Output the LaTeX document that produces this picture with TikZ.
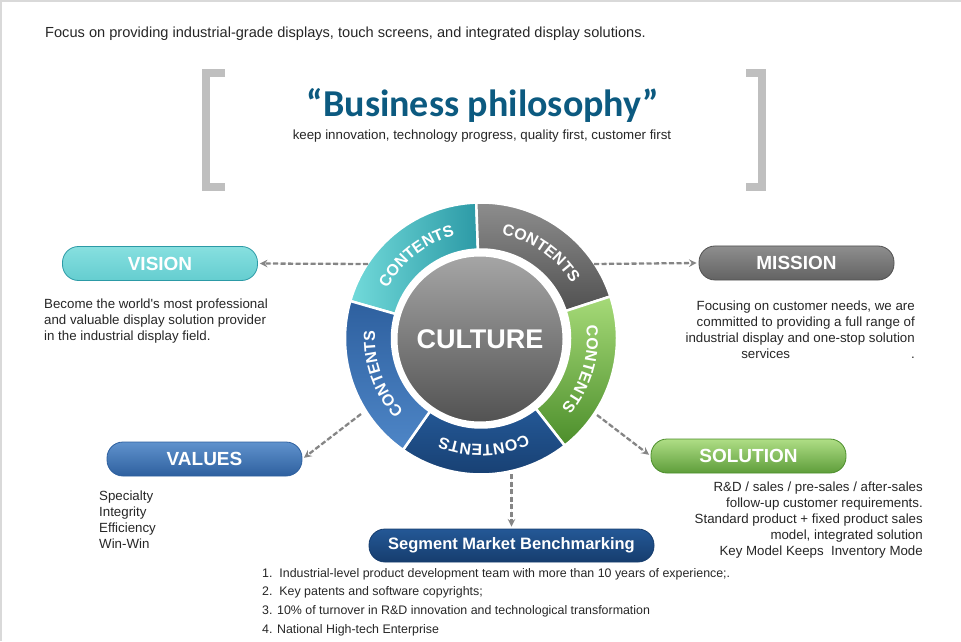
\documentclass[tikz,border=0pt]{standalone}
\usepackage{fontspec}
\setmainfont{Liberation Sans}[Ligatures=TeXOff]
\newfontfamily\titlefont{Carlito}
\usetikzlibrary{decorations.text}
\definecolor{tealL}{HTML}{72DADA}
\definecolor{tealD}{HTML}{2C9AA6}
\definecolor{grayL}{HTML}{8E8E8E}
\definecolor{grayD}{HTML}{515151}
\definecolor{greenL}{HTML}{A6DA78}
\definecolor{greenD}{HTML}{4C8E2B}
\definecolor{navyL}{HTML}{245896}
\definecolor{navyD}{HTML}{163D6E}
\definecolor{blueL}{HTML}{4E86C7}
\definecolor{blueD}{HTML}{2E609F}
\definecolor{titleblue}{HTML}{0C5A80}
\definecolor{linkgray}{HTML}{858585}
\newcommand\segfont{\fontsize{16}{16}\selectfont\bfseries}

\begin{document}
\begin{tikzpicture}[x=1pt,y=1pt,>=stealth,
  pill/.style={rectangle,rounded corners=16pt,minimum width=195pt,minimum height=34pt,line width=0.8pt,text=white,font=\fontsize{19}{19}\selectfont\bfseries},
  body/.style={inner sep=0pt,text=black!85,font=\fontsize{13.3}{16}\selectfont},
  link/.style={->,draw=linkgray,fill=linkgray,line width=2.3pt,dash pattern=on 5pt off 2.5pt,shorten >=2pt},
  seg/.style={draw=white,line width=2.5pt},
  lbl/.style={decorate,decoration={text along path,text align=center,text color=white,text={|\segfont|CONTENTS}}}]
\useasboundingbox (0,0) rectangle (961,641);
\draw[black!15,line width=2pt] (1,0) -- (1,640) -- (961,640);
%\node at (480,620) {header};
\node[body,anchor=west,font=\fontsize{14.6}{16}\selectfont] (focus) at (45,607) {Focus on providing industrial-grade displays, touch screens, and integrated display solutions.};
\draw[black!25,line width=8pt] (225,568) -- (205.5,568) -- (205.5,454) -- (225,454);
\draw[black!25,line width=8pt] (746,568) -- (761.5,568) -- (761.5,454) -- (746,454);
\node[inner sep=0pt,anchor=base,text=titleblue,font=\titlefont\bfseries\fontsize{38}{38}\selectfont] (title) at (483,524) {“Business philosophy”};
\node[body,font=\fontsize{13.3}{14}\selectfont] (motto) at (482,505) {keep innovation, technology progress, quality first, customer first};

% ring
\begin{scope}[shift={(481,302.5)}]
\path[seg,left color=tealL,right color=tealD] (164:136) arc[start angle=164,end angle=92,radius=136] -- (92:89) arc[start angle=92,end angle=164,radius=89] -- cycle;
\path[seg,top color=grayL,bottom color=grayD] (92:136) arc[start angle=92,end angle=18,radius=136] -- (18:89) arc[start angle=18,end angle=92,radius=89] -- cycle;
\path[seg,top color=greenL,bottom color=greenD] (18:136) arc[start angle=18,end angle=-52,radius=136] -- (-52:89) arc[start angle=-52,end angle=18,radius=89] -- cycle;
\path[seg,top color=navyL,bottom color=navyD] (-52:136) arc[start angle=-52,end angle=-125,radius=136] -- (-125:89) arc[start angle=-125,end angle=-52,radius=89] -- cycle;
\path[seg,top color=blueD,bottom color=blueL] (-125:136) arc[start angle=-125,end angle=-196,radius=136] -- (-196:89) arc[start angle=-196,end angle=-125,radius=89] -- cycle;
\path[lbl] (163:106) arc[start angle=163,end angle=93,radius=106];
\path[lbl] (91:106) arc[start angle=91,end angle=19,radius=106];
\path[lbl] (17:106) arc[start angle=17,end angle=-51,radius=106];
\path[lbl] (-53:106) arc[start angle=-53,end angle=-124,radius=106];
\path[lbl] (-126:106) arc[start angle=-126,end angle=-195,radius=106];
\end{scope}
\node[circle,minimum size=168pt,inner sep=0pt,top color=black!35,bottom color=black!68,draw=white,line width=3pt,text=white,font=\fontsize{27}{27}\selectfont\bfseries] (culture) at (480,302) {CULTURE};

\coordinate (fromteal) at (368,377);
\coordinate (fromgray) at (594,377);
\coordinate (fromblue) at (361,227);
\coordinate (fromgreen) at (597,226);
\coordinate (fromnavy) at (511.5,167);

\node[pill,top color=tealL!85!white,bottom color=tealL!80!tealD,draw=tealD] (vision) at (160,377.5) {VISION};
\node[pill,top color=grayL,bottom color=grayD!90,draw=grayD] (mission) at (796.5,378) {MISSION};
\node[pill,top color=blueL!90!white,bottom color=blueD,draw=blueD] (values) at (204.5,182) {VALUES};
\node[pill,top color=greenL!90!white,bottom color=greenD!80!greenL,draw=greenD] (solution) at (748.5,185) {SOLUTION};
\node[pill,minimum width=285pt,minimum height=33pt,top color=navyL,bottom color=navyD,draw=navyD,font=\fontsize{16.5}{16.5}\selectfont\bfseries] (segment) at (511.5,95.5) {Segment Market Benchmarking};

\draw[link] (fromteal) -- (vision.east); \draw[link] (fromgray) -- (mission.west);
\draw[link] (fromblue) -- (values.east); \draw[link] (fromgreen) -- (solution.west);
\draw[link] (fromnavy) -- (segment.north);

\node[body,anchor=west,align=left] (visiontext) at (44,320) {Become the world's most professional\\and valuable display solution provider\\in the industrial display field.};
\node[body,anchor=east,align=right] (missiontext) at (915,311) {Focusing on customer needs, we are\\committed to providing a full range of\\industrial display and one-stop solution\\services\hspace{121pt}.};
\node[body,anchor=west,align=left] (valuestext) at (99,121) {Specialty\\Integrity\\Efficiency\\Win-Win};
\node[body,anchor=east,align=right] (solutiontext) at (923,121) {R\&D / sales / pre-sales / after-sales\\follow-up customer requirements.\\Standard product + fixed product sales\\model, integrated solution\\Key Model Keeps\ \ Inventory Mode};
\node[body,anchor=west,align=left,font=\fontsize{12.4}{18.7}\selectfont] (segmenttext) at (262,39) {1.\ \ Industrial-level product development team with more than 10 years of experience;.\\2.\ \ Key patents and software copyrights;\\3. 10\% of turnover in R\&D innovation and technological transformation\\4. National High-tech Enterprise};
\end{tikzpicture}
\end{document}
